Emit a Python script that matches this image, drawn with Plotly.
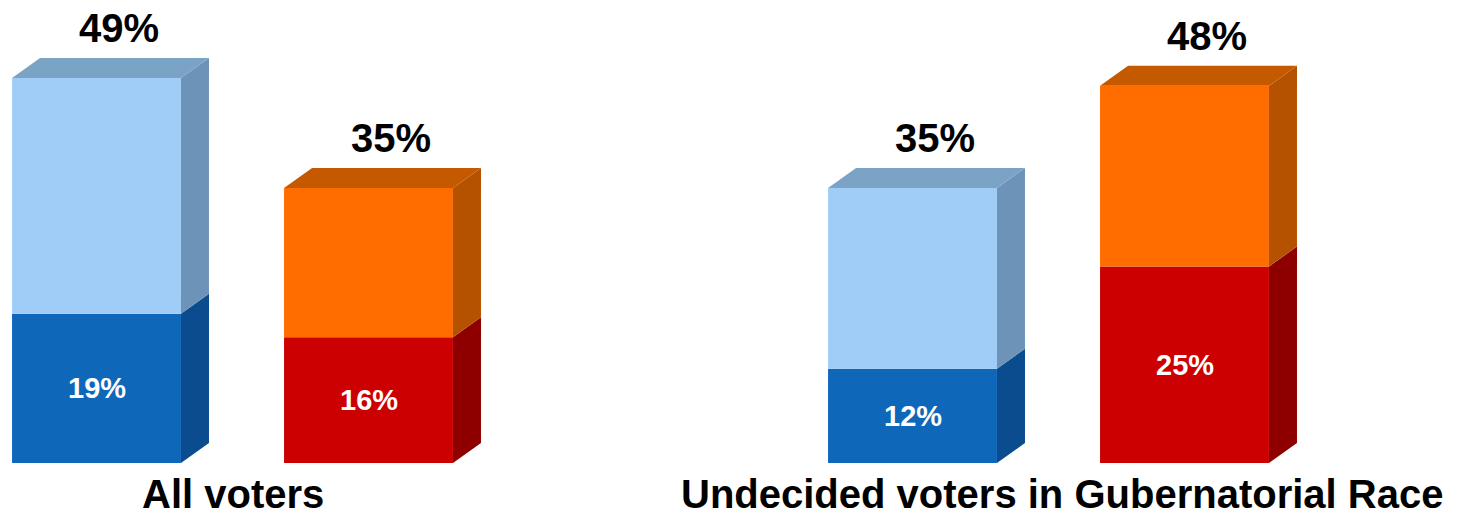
import plotly.graph_objects as go

# Chart data
groups = ["All voters", "Undecided voters in Gubernatorial Race"]
bar_positions = [0, 1, 3, 4]
bar_group = [0, 0, 1, 1]
totals = [49, 35, 35, 48]          # full bar value (label on top)
strong = [19, 16, 12, 25]          # lower segment value (label inside)
party = ["blue", "red", "blue", "red"]

# Palette per party: front lower, front upper, side lower, side upper, top
palette = {
    "blue": dict(low="#0F67BA", up="#A0CDF8", side_low="#0B4C8E",
                 side_up="#6E93B8", top="#7BA3C6"),
    "red": dict(low="#CC0000", up="#FF6D00", side_low="#8E0000",
                side_up="#B55200", top="#C55900"),
}

BAR_W = 0.621     # front face width (x units)
DX = 0.103        # depth offset in x
DY = 2.55         # depth offset in y (percent units)

fig = go.Figure()

# Front faces as stacked bars
for i, x in enumerate(bar_positions):
    c = palette[party[i]]
    fig.add_trace(go.Bar(x=[x], y=[strong[i]], base=[0], width=BAR_W,
                         marker=dict(color=c["low"], line=dict(width=0)),
                         hoverinfo="skip", showlegend=False))
    fig.add_trace(go.Bar(x=[x], y=[totals[i] - strong[i]], base=[strong[i]],
                         width=BAR_W,
                         marker=dict(color=c["up"], line=dict(width=0)),
                         hoverinfo="skip", showlegend=False))


def face(xs, ys, color):
    fig.add_trace(go.Scatter(x=xs + [xs[0]], y=ys + [ys[0]], mode="lines",
                             fill="toself", fillcolor=color,
                             line=dict(width=0, color=color),
                             hoverinfo="skip", showlegend=False))


# Side and top faces derived from the same values
for i, x in enumerate(bar_positions):
    c = palette[party[i]]
    xl, xr = x - BAR_W / 2, x + BAR_W / 2
    lo, hi = strong[i], totals[i]
    face([xr, xr + DX, xr + DX, xr], [0, DY, lo + DY, lo], c["side_low"])
    face([xr, xr + DX, xr + DX, xr], [lo, lo + DY, hi + DY, hi], c["side_up"])
    face([xl, xr, xr + DX, xl + DX], [hi, hi, hi + DY, hi + DY], c["top"])

annotations = []
for i, x in enumerate(bar_positions):
    annotations.append(dict(x=x + DX * 0.8, y=totals[i] + DY + 3.8,
                            text=f"<b>{totals[i]}%</b>", showarrow=False,
                            font=dict(size=40, color="black",
                                      family="Liberation Sans, Arial")))
    annotations.append(dict(x=x, y=strong[i] / 2, text=f"<b>{strong[i]}%</b>",
                            showarrow=False,
                            font=dict(size=29, color="white",
                                      family="Liberation Sans, Arial")))

for g, name in enumerate(groups):
    xs = [p for p, gg in zip(bar_positions, bar_group) if gg == g]
    annotations.append(dict(x=sum(xs) / len(xs) + g * 0.05, y=-3.9,
                            text=f"<b>{name}</b>", showarrow=False,
                            font=dict(size=40, color="black",
                                      family="Liberation Sans, Arial")))

fig.update_layout(
    width=1475, height=517,
    margin=dict(l=0, r=0, t=0, b=0),
    paper_bgcolor="white", plot_bgcolor="white",
    barmode="overlay",
    xaxis=dict(range=[-0.3548, 5.068], visible=False, fixedrange=True),
    yaxis=dict(range=[-6.873, 58.93], visible=False, fixedrange=True),
    annotations=annotations,
)

fig.write_html("out.html")
